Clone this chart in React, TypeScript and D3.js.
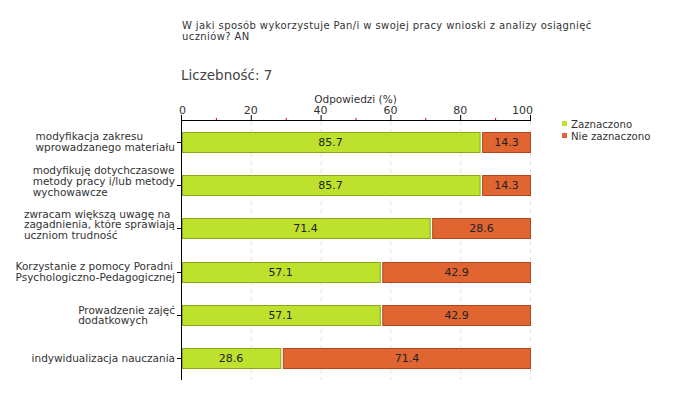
import React from "react";
import * as d3 from "d3";

const title = ["W jaki sposób wykorzystuje Pan/i w swojej pracy wnioski z analizy osiągnięć", "uczniów? AN"];
const countLabel = "Liczebność: 7";
const axisTitle = "Odpowiedzi (%)";
const categories = [
  ["modyfikacja zakresu", "wprowadzanego materiału"],
  ["modyfikuję dotychczasowe", "metody pracy i/lub metody", "wychowawcze"],
  ["zwracam większą uwagę na", "zagadnienia, które sprawiają", "uczniom trudność"],
  ["Korzystanie z pomocy Poradni", "Psychologiczno-Pedagogicznej"],
  ["Prowadzenie zajęć", "dodatkowych"],
  ["indywidualizacja nauczania"],
];
const zaznaczono = [85.7, 85.7, 71.4, 57.1, 57.1, 28.6];
const nieZaznaczono = [14.3, 14.3, 28.6, 42.9, 42.9, 71.4];
const seriesNames = ["Zaznaczono", "Nie zaznaczono"];
const majorTicks = [0, 20, 40, 60, 80, 100];
const minorTicks = [10, 30, 50, 70, 90];

const FONT = "DejaVu Sans, Verdana, sans-serif";
const GREEN = "#bde12d";
const GREEN_S = "#8aa81c";
const ORANGE = "#e06530";
const ORANGE_S = "#b0481c";

let ctx: CanvasRenderingContext2D | null = null;
function textWidth(s: string, size: number) {
  if (!ctx) ctx = document.createElement("canvas").getContext("2d");
  if (!ctx) return s.length * size * 0.55;
  ctx.font = `${size}px ${FONT}`;
  return ctx.measureText(s).width;
}

export default function App() {
  const x = d3.scaleLinear().domain([0, 100]).range([181, 530]);
  const y = d3.scaleBand().domain(categories.map((_, i) => String(i))).range([120, 380]);
  const bh = 20;
  const lh = 10.8;
  const labelSize = 10.5;
  return (
    <svg width={680} height={400} style={{ position: "absolute", left: 0, top: 0, background: "#fff" }} fontFamily={FONT}>
      <rect width={680} height={400} fill="#fff" />
      {title.map((t, i) => (
        <text key={i} x={182} y={29 + i * 10.8} fontSize={10} letterSpacing={0.4} fill="#333">{t}</text>
      ))}
      <text x={181} y={80} fontSize={13.5} fill="#444">{countLabel}</text>
      <text x={(x(0) + x(100)) / 2} y={103} fontSize={10.5} fill="#333" textAnchor="middle">{axisTitle}</text>
      {majorTicks.map((t) => (
        <g key={t}>
          <text x={x(t)} y={114} fontSize={11} fill="#333" textAnchor={t === 0 ? "start" : t === 100 ? "end" : "middle"} dx={t === 0 ? -2 : t === 100 ? 3 : 0}>{t}</text>
          {t > 0 && <line x1={x(t) + 0.5} x2={x(t) + 0.5} y1={121} y2={380} stroke="#e2e2e2" strokeDasharray="4,4" />}
          <line x1={x(t) + 0.5} x2={x(t) + 0.5} y1={115} y2={121} stroke="#000" />
        </g>
      ))}
      {minorTicks.map((t) => (
        <line key={t} x1={x(t) + 0.5} x2={x(t) + 0.5} y1={118} y2={121} stroke="#d00" />
      ))}
      <line x1={x(0)} x2={x(100) + 1} y1={120.5} y2={120.5} stroke="#000" />
      <line x1={x(0) + 0.5} x2={x(0) + 0.5} y1={120} y2={380} stroke="#000" />
      {categories.map((lines, i) => {
        const cy = (y(String(i)) as number) + y.bandwidth() / 2;
        const top = Math.round(cy - bh / 2) + 0.5;
        const v1 = zaznaczono[i];
        const v2 = nieZaznaczono[i];
        const maxW = Math.max(...lines.map((l) => textWidth(l, labelSize)));
        const lx = 175 - maxW;
        const shift = lines.length === 3 ? -4 : 0;
        const startY = cy - ((lines.length - 1) * lh) / 2 + shift + 4;
        return (
          <g key={i}>
            <line x1={177} x2={181} y1={Math.round(cy) + 0.5} y2={Math.round(cy) + 0.5} stroke="#000" />
            {lines.map((l, j) => (
              <text key={j} x={lx} y={startY + j * lh} fontSize={labelSize} fill="#333">{l}</text>
            ))}
            <rect x={x(0) + 1.5} y={top} width={x(v1) - x(0) - 1.5} height={bh} fill={GREEN} stroke={GREEN_S} />
            <rect x={x(v1) + 2.5} y={top} width={x(100) - x(v1) - 2} height={bh} fill={ORANGE} stroke={ORANGE_S} />
            <text x={(x(0) + x(v1)) / 2} y={cy + 4} fontSize={11} fill="#222" textAnchor="middle">{v1.toFixed(1)}</text>
            <text x={(x(v1) + 3 + x(100)) / 2} y={cy + 4} fontSize={11} fill="#222" textAnchor="middle">{v2.toFixed(1)}</text>
          </g>
        );
      })}
      {seriesNames.map((s, i) => (
        <g key={s}>
          <rect x={562} y={121 + i * 12} width={5} height={5} fill={i === 0 ? GREEN : ORANGE} />
          <text x={571} y={127.5 + i * 12} fontSize={10.2} fill="#333">{s}</text>
        </g>
      ))}
    </svg>
  );
}
